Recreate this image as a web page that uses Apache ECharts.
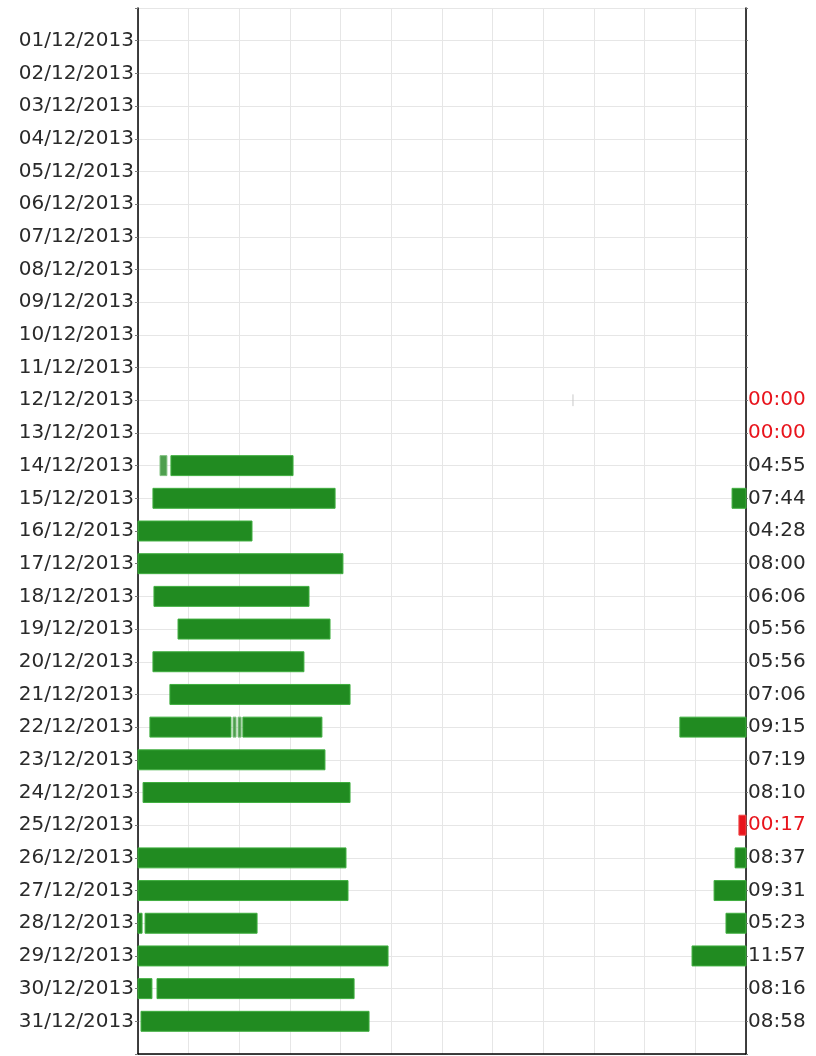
<!DOCTYPE html>
<html>
<head>
<meta charset="utf-8">
<script src="https://cdn.jsdelivr.net/npm/echarts@6/dist/echarts.min.js"></script>
<style>
html,body{margin:0;padding:0;background:#fff;}
#chart{width:816px;height:1056px;}
</style>
</head>
<body>
<div id="chart"></div>
<script>
// Row labels (dates), one per row
const dates = ['01/12/2013','02/12/2013','03/12/2013','04/12/2013','05/12/2013','06/12/2013','07/12/2013','08/12/2013','09/12/2013','10/12/2013','11/12/2013','12/12/2013','13/12/2013','14/12/2013','15/12/2013','16/12/2013','17/12/2013','18/12/2013','19/12/2013','20/12/2013','21/12/2013','22/12/2013','23/12/2013','24/12/2013','25/12/2013','26/12/2013','27/12/2013','28/12/2013','29/12/2013','30/12/2013','31/12/2013'];
// Total sleep per row (right labels)
const durations = ['','','','','','','','','','','','00:00','00:00','04:55','07:44','04:28','08:00','06:06','05:56','05:56','07:06','09:15','07:19','08:10','00:17','08:37','09:31','05:23','11:57','08:16','08:58'];
const shortNight = ['00:00','00:17'];
// Sleep segments (hours on a 0-24 axis)
const segDate  = ['12/12/2013','14/12/2013','14/12/2013','15/12/2013','15/12/2013','16/12/2013','17/12/2013','18/12/2013','19/12/2013','20/12/2013','21/12/2013','22/12/2013','22/12/2013','22/12/2013','22/12/2013','22/12/2013','23/12/2013','24/12/2013','25/12/2013','26/12/2013','26/12/2013','27/12/2013','27/12/2013','28/12/2013','28/12/2013','28/12/2013','29/12/2013','29/12/2013','30/12/2013','30/12/2013','31/12/2013'];
const segStart = [17.17, 0.87, 1.30, 0.59, 23.45, 0.00, 0.00, 0.63, 1.58, 0.59, 1.26, 0.47, 3.75, 3.95, 4.14, 21.39, 0.00, 0.20, 23.72, 0.00, 23.57, 0.00, 22.74, 0.00, 0.28, 23.21, 0.00, 21.87, 0.00, 0.75, 0.12];
const segEnd   = [17.17, 1.14, 6.12, 7.78, 24.00, 4.50, 8.09, 6.75, 7.58, 6.55, 8.37, 3.67, 3.87, 4.07, 7.26, 24.00, 7.38, 8.37, 24.00, 8.21, 24.00, 8.29, 24.00, 0.16, 4.70, 24.00, 9.87, 24.00, 0.55, 8.53, 9.12];
const segKind  = ['blip','light','deep','deep','deep','deep','deep','deep','deep','deep','deep','deep','light','light','deep','deep','deep','deep','short','deep','deep','deep','deep','deep','deep','deep','deep','deep','deep','deep','deep'];

const kindNames = ['deep','light','short','blip'];
const kindFill = ['#218b21','#4e9f4e','#e8141c','#c8c8c8'];
const kindStroke = ['#3fae3f','#7fc07f','#f04a4a','#c8c8c8'];

const data = segDate.map((d, i) => [dates.indexOf(d) + 1, segStart[i], segEnd[i], kindNames.indexOf(segKind[i])]);

const chart = echarts.init(document.getElementById('chart'), null, {renderer: 'canvas'});
const labelFont = {fontFamily: 'DejaVu Sans', fontSize: 20};

chart.setOption({
  animation: false,
  backgroundColor: '#fff',
  grid: {left: 138, right: 70, top: 8, bottom: 2, containLabel: false},
  xAxis: {
    type: 'value', min: 0, max: 24, interval: 2, position: 'bottom',
    axisLabel: {show: false},
    axisTick: {show: false},
    axisLine: {show: true, onZero: false, lineStyle: {color: '#000', width: 1.5}},
    splitLine: {show: true, lineStyle: {color: '#e6e6e6', width: 1}}
  },
  yAxis: [{
    type: 'value', inverse: true, min: 0, max: 32, interval: 1, position: 'left',
    axisLine: {show: true, onZero: false, lineStyle: {color: '#000', width: 1.5}},
    axisTick: {show: true, length: 3, lineStyle: {color: '#777'}},
    axisLabel: Object.assign({color: '#2a2a2a', margin: 4, formatter: v => dates[v - 1] || ''}, labelFont),
    splitLine: {show: true, lineStyle: {color: '#e6e6e6', width: 1}}
  }, {
    type: 'value', inverse: true, min: 0, max: 32, interval: 1, position: 'right',
    axisLine: {show: true, onZero: false, lineStyle: {color: '#000', width: 1.5}},
    axisTick: {show: true, length: 2, lineStyle: {color: '#777'}},
    axisLabel: Object.assign({
      color: '#2a2a2a', margin: 2,
      formatter: v => {
        const t = durations[v - 1] || '';
        if (!t) return '';
        return shortNight.includes(t) ? '{r|' + t + '}' : t;
      },
      rich: {r: Object.assign({color: '#e8141c'}, labelFont)}
    }, labelFont),
    splitLine: {show: false}
  }],
  series: [{
    type: 'custom',
    xAxisIndex: 0, yAxisIndex: 0,
    encode: {x: [1, 2], y: 0},
    data: data,
    renderItem: (params, api) => {
      const row = api.value(0), s = api.value(1), e = api.value(2), k = api.value(3);
      const p0 = api.coord([s, row]);
      const p1 = api.coord([e, row]);
      const band = api.size([0, 1])[1];
      if (k === 3) {
        return {type: 'line', shape: {x1: p0[0], y1: p0[1] - band * 0.18, x2: p0[0], y2: p0[1] + band * 0.18},
          style: {stroke: kindFill[k], lineWidth: 1}};
      }
      const h = band * 0.61;
      return {
        type: 'rect',
        shape: {x: p0[0], y: p0[1] - h / 2, width: Math.max(p1[0] - p0[0], 1), height: h},
        style: {fill: kindFill[k], stroke: kindStroke[k], lineWidth: 1}
      };
    }
  }]
});
</script>
</body>
</html>
